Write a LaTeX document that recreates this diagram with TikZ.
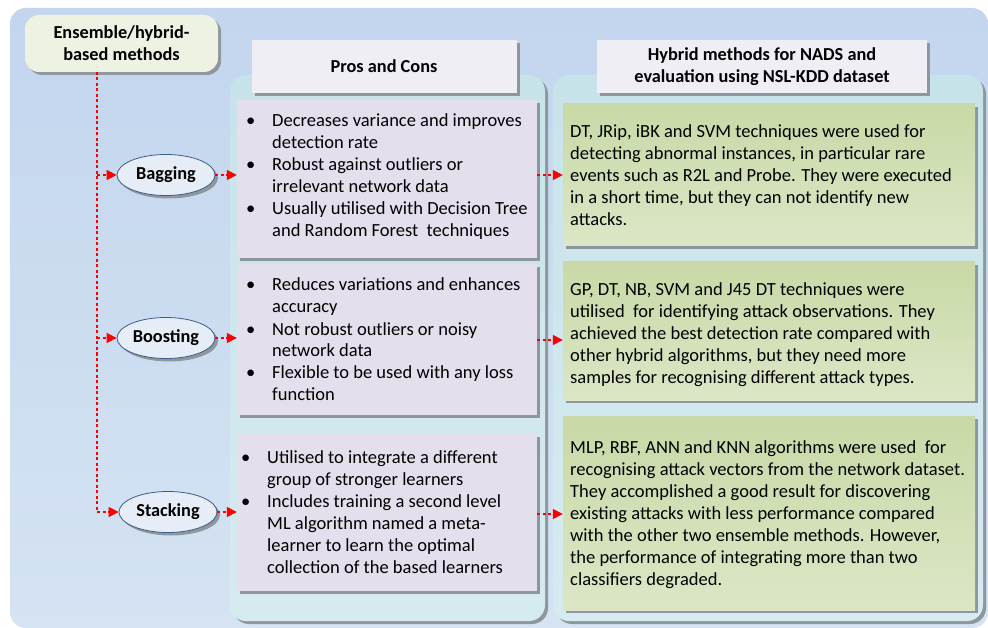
\documentclass[tikz,border=0pt]{standalone}
\usepackage{fontspec}
\setmainfont{Carlito}
\usetikzlibrary{shadows,arrows.meta,shapes.geometric}

\definecolor{bgtop}{HTML}{C3D6EE}
\definecolor{bgbot}{HTML}{D5E3F3}
\definecolor{titlefill}{HTML}{EEF2E3}
\definecolor{headfill}{HTML}{F0EEF5}
\definecolor{paneltop}{HTML}{C7E3EA}
\definecolor{panelbot}{HTML}{D6EBF0}
\definecolor{prosfill}{HTML}{E4DFEC}
\definecolor{greentop}{HTML}{C8D9A6}
\definecolor{greenbot}{HTML}{DCE6C6}
\definecolor{ellfill}{HTML}{E7EDF6}
\definecolor{ellline}{HTML}{3A5F8C}
\definecolor{shade}{HTML}{8E969E}
\definecolor{flowred}{HTML}{FF0000}

\tikzset{
  bodyfont/.style={font=\fontsize{18.5}{22}\selectfont},
  headfont/.style={font=\fontsize{18.3}{22}\selectfont\bfseries},
  shadowed/.style={drop shadow={shadow xshift=3pt, shadow yshift=-3pt, fill=shade, opacity=1}},
  outerbox/.style={rounded corners=16pt, top color=bgtop, bottom color=bgbot, draw=none},
  titlebox/.style={rounded corners=14pt, fill=titlefill, shadowed, draw=none},
  headbox/.style={fill=headfill, shadowed, draw=none},
  panel/.style={rounded corners=16pt, top color=paneltop, bottom color=panelbot, shadowed, draw=none},
  prosbox/.style={fill=prosfill, shadowed, draw=none},
  resultbox/.style={top color=greentop, bottom color=greenbot, shadowed, draw=none},
  method/.style={ellipse, draw=ellline, line width=0.8pt, fill=ellfill, minimum width=98pt, minimum height=41pt, inner sep=0pt, shadowed, headfont},
  flow/.style={draw=flowred, line width=1.6pt, dash pattern=on 3pt off 2.5pt, -{Triangle[length=10pt,width=10pt]}},
  trunkline/.style={draw=flowred, line width=1.6pt, dash pattern=on 3pt off 2.5pt},
  txt/.style={anchor=base west, inner sep=0pt, bodyfont},
}

\begin{document}
\begin{tikzpicture}[x=1pt,y=-1pt]
\useasboundingbox (0,0) rectangle (988,628);

% background
\path[outerbox] (10,8) rectangle (988,628);

% column panels
\path[panel] (230,75) rectangle (545,621);
\path[panel] (553,75) rectangle (983,621);

% title and column headers
\node[titlebox, minimum width=193pt, minimum height=57pt, headfont, align=center] (title) at (121.5,43.5)
  {Ensemble/hybrid-\\based methods};
\node[headbox, minimum width=265pt, minimum height=53pt, headfont] (proshead) at (384,66.5) {Pros and Cons};
\node[headbox, minimum width=330pt, minimum height=53pt, headfont, align=center] (hybhead) at (762,66.5)
  {Hybrid methods for NADS and\\evaluation using NSL-KDD dataset};

% pros and cons boxes
\node[prosbox, minimum width=300pt, minimum height=158pt] (pb1) at (387,179) {};
\node[prosbox, minimum width=300pt, minimum height=151pt] (pb2) at (387,339.5) {};
\node[prosbox, minimum width=300pt, minimum height=157pt] (pb3) at (387,512.5) {};

% result boxes
\node[resultbox, minimum width=412pt, minimum height=142pt] (gb1) at (769,175) {};
\node[resultbox, minimum width=412pt, minimum height=138pt] (gb2) at (769,331) {};
\node[resultbox, minimum width=412pt, minimum height=194pt] (gb3) at (769,513) {};

% method ellipses
\node[method] (bag) at (166,175) {Bagging};
\node[method] (boost) at (166,338) {Boosting};
\node[method] (stack) at (168,512) {Stacking};

% pros and cons texts
\node[txt] (t1) at (246,127) {\begin{tabular}[t]{@{}p{26pt}@{}l@{}}
  • & Decreases variance and improves\\
    & detection rate\\
  • & Robust against outliers or\\
    & irrelevant network data\\
  • & Usually utilised with Decision Tree\\
    & and Random Forest\ \ techniques
\end{tabular}};
\node[txt] (t2) at (246,291) {\begin{tabular}[t]{@{}p{26pt}@{}l@{}}
  • & Reduces variations and enhances\\
    & accuracy\\
  • & Not robust outliers or noisy\\
    & network data\\
  • & Flexible to be used with any loss\\
    & function
\end{tabular}};
\node[txt] (t3) at (241,463) {\begin{tabular}[t]{@{}p{26pt}@{}l@{}}
  • & Utilised to integrate a different\\
    & group of stronger learners\\
  • & Includes training a second level\\
    & ML algorithm named a meta-\\
    & learner to learn the optimal\\
    & collection of the based learners
\end{tabular}};

% result texts
\node[txt] (r1) at (570,138) {\begin{tabular}[t]{@{}l@{}}
  DT, JRip, iBK and SVM techniques were used for\\
  detecting abnormal instances, in particular rare\\
  events such as R2L and Probe. They were executed\\
  in a short time, but they can not identify new\\
  attacks.
\end{tabular}};
\node[txt] (r2) at (570,296) {\begin{tabular}[t]{@{}l@{}}
  GP, DT, NB, SVM and J45 DT techniques were\\
  utilised\ \ for identifying attack observations. They\\
  achieved the best detection rate compared with\\
  other hybrid algorithms, but they need more\\
  samples for recognising different attack types.
\end{tabular}};
\node[txt] (r3) at (570,453) {\begin{tabular}[t]{@{}l@{}}
  MLP, RBF, ANN and KNN algorithms were used\ \ for\\
  recognising attack vectors from the network dataset.\\
  They accomplished a good result for discovering\\
  existing attacks with less performance compared\\
  with the other two ensemble methods. However,\\
  the performance of integrating more than two\\
  classifiers degraded.
\end{tabular}};

% connectors
\coordinate (trunk) at (97,72);
\draw[trunkline] (trunk) -- (trunk |- stack.west);
\draw[flow] (trunk |- bag.west) -- (bag.west);
\draw[flow] (trunk |- boost.west) -- (boost.west);
\draw[flow] (trunk |- stack.west) -- (stack.west);

\draw[flow] (bag.east) -- (bag.east -| pb1.west);
\draw[flow] (boost.east) -- (boost.east -| pb2.west);
\draw[flow] (stack.east) -- (stack.east -| pb3.west);

\draw[flow] (bag.east -| pb1.east) -- (bag.east -| gb1.west);
\draw[flow] ([yshift=-2pt]boost.east -| pb2.east) -- ([yshift=-2pt]boost.east -| gb2.west);
\draw[flow] ([yshift=-2pt]stack.east -| pb3.east) -- ([yshift=-2pt]stack.east -| gb3.west);
\end{tikzpicture}
\end{document}
